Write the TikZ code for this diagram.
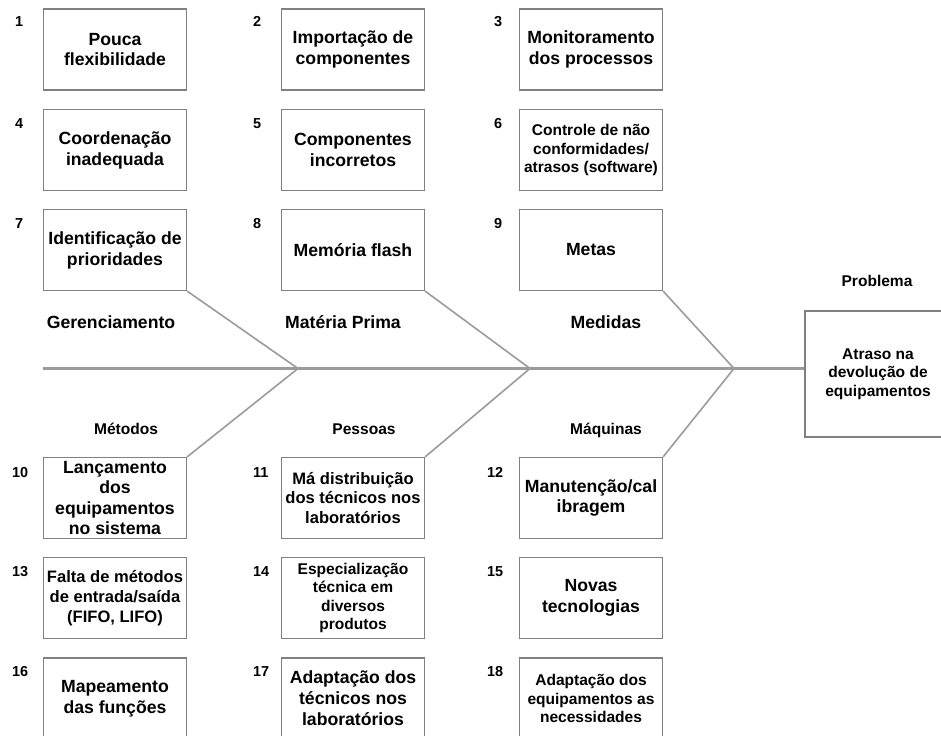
\documentclass[tikz,border=0pt]{standalone}
\usepackage{fontspec}
\setmainfont{Liberation Sans}
\begin{document}
\begin{tikzpicture}[x=1bp,y=-1bp,
  every node/.style={font=\bfseries},
  fbox/.style={draw=boxgray, line width=1.2bp, minimum width=143bp, minimum height=81bp, inner sep=0pt, align=center},
  big/.style={font=\bfseries\fontsize{17.7}{21}\selectfont},
  mid/.style={font=\bfseries\fontsize{16.6}{19.8}\selectfont},
  small/.style={font=\bfseries\fontsize{15.6}{18.6}\selectfont},
  num/.style={anchor=base west, inner sep=0pt, font=\bfseries\fontsize{14.5}{17}\selectfont},
  cat/.style={inner sep=0pt, anchor=base},
  spine/.style={draw=linegray, line width=2.4bp},
  bone/.style={draw=linegray, line width=1.6bp}
]
\definecolor{boxgray}{RGB}{128,128,128}
\definecolor{linegray}{RGB}{155,155,155}
\path[use as bounding box, clip] (0,0) rectangle (941,736);

% top boxes
\node[fbox,big]   (b1) at (115,49.5) {Pouca\\flexibilidade};
\node[fbox,big]   (b2) at (353,49.5) {Importação de\\componentes};
\node[fbox,big]   (b3) at (591,49.5) {Monitoramento\\dos processos};
\node[fbox,big]   (b4) at (115,150) {Coordenação\\inadequada};
\node[fbox,big]   (b5) at (353,150) {Componentes\\incorretos};
\node[fbox,small] (b6) at (591,150) {Controle de não\\conformidades/\\atrasos (software)};
\node[fbox,big]   (b7) at (115,250) {Identificação de\\prioridades};
\node[fbox,big]   (b8) at (353,250) {Memória flash};
\node[fbox,big]   (b9) at (591,250) {Metas};

% bottom boxes
\node[fbox,font=\bfseries\fontsize{17.7}{20.7}\selectfont] (b10) at (115,498) {Lançamento\\dos\\equipamentos\\no sistema};
\node[fbox,mid]   (b11) at (353,498) {Má distribuição\\dos técnicos nos\\laboratórios};
\node[fbox,big]   (b12) at (591,498) {Manutenção/cal\\ibragem};
\node[fbox,mid]   (b13) at (115,598) {Falta de métodos\\de entrada/saída\\(FIFO, LIFO)};
\node[fbox,small] (b14) at (353,598) {Especialização\\técnica em\\diversos\\produtos};
\node[fbox,big]   (b15) at (591,598) {Novas\\tecnologias};
\node[fbox,big]   (b16) at (115,698.5) {Mapeamento\\das funções};
\node[fbox,big]   (b17) at (353,698.5) {Adaptação dos\\técnicos nos\\laboratórios};
\node[fbox,small] (b18) at (591,698.5) {Adaptação dos\\equipamentos as\\necessidades};

% problem box
\node[fbox,small,minimum width=146bp,minimum height=126bp] (prob) at (878,374) {Atraso na\\devolução de\\equipamentos};
\node[cat,font=\bfseries\fontsize{15.6}{18}\selectfont] (lprob) at (877,286.5) {Problema};

% numbers
\node[num] (n1) at (15,27) {1};
\node[num] (n2) at (253,27) {2};
\node[num] (n3) at (494,27) {3};
\node[num] (n4) at (15,128) {4};
\node[num] (n5) at (253,128) {5};
\node[num] (n6) at (494,128) {6};
\node[num] (n7) at (15,228) {7};
\node[num] (n8) at (253,228) {8};
\node[num] (n9) at (494,228) {9};
\node[num] (n10) at (12,477) {10};
\node[num] (n11) at (253,477) {11};
\node[num] (n12) at (487,477) {12};
\node[num] (n13) at (12,576) {13};
\node[num] (n14) at (253,576) {14};
\node[num] (n15) at (487,576) {15};
\node[num] (n16) at (12,676) {16};
\node[num] (n17) at (253,676) {17};
\node[num] (n18) at (487,676) {18};

% category labels
\node[cat,big] (lger) at (111,328) {Gerenciamento};
\node[cat,big] (lmat) at (343,328) {Matéria Prima};
\node[cat,big] (lmed) at (606,328) {Medidas};
\node[cat,small] (lmet) at (126,434) {Métodos};
\node[cat,small] (lpes) at (364,434) {Pessoas};
\node[cat,small] (lmaq) at (606,434) {Máquinas};

% spine and bones
\coordinate (s0) at (43,368.5);
\coordinate (j1) at (298,368.5);
\coordinate (j2) at (530,368.5);
\coordinate (j3) at (734,368.5);
\draw[spine] (s0) -- (prob.west |- s0);
\draw[bone] (b7.south east) -- (j1);
\draw[bone] (b10.north east) -- (j1);
\draw[bone] (b8.south east) -- (j2);
\draw[bone] (b11.north east) -- (j2);
\draw[bone] (b9.south east) -- (j3);
\draw[bone] (b12.north east) -- (j3);
\end{tikzpicture}
\end{document}
